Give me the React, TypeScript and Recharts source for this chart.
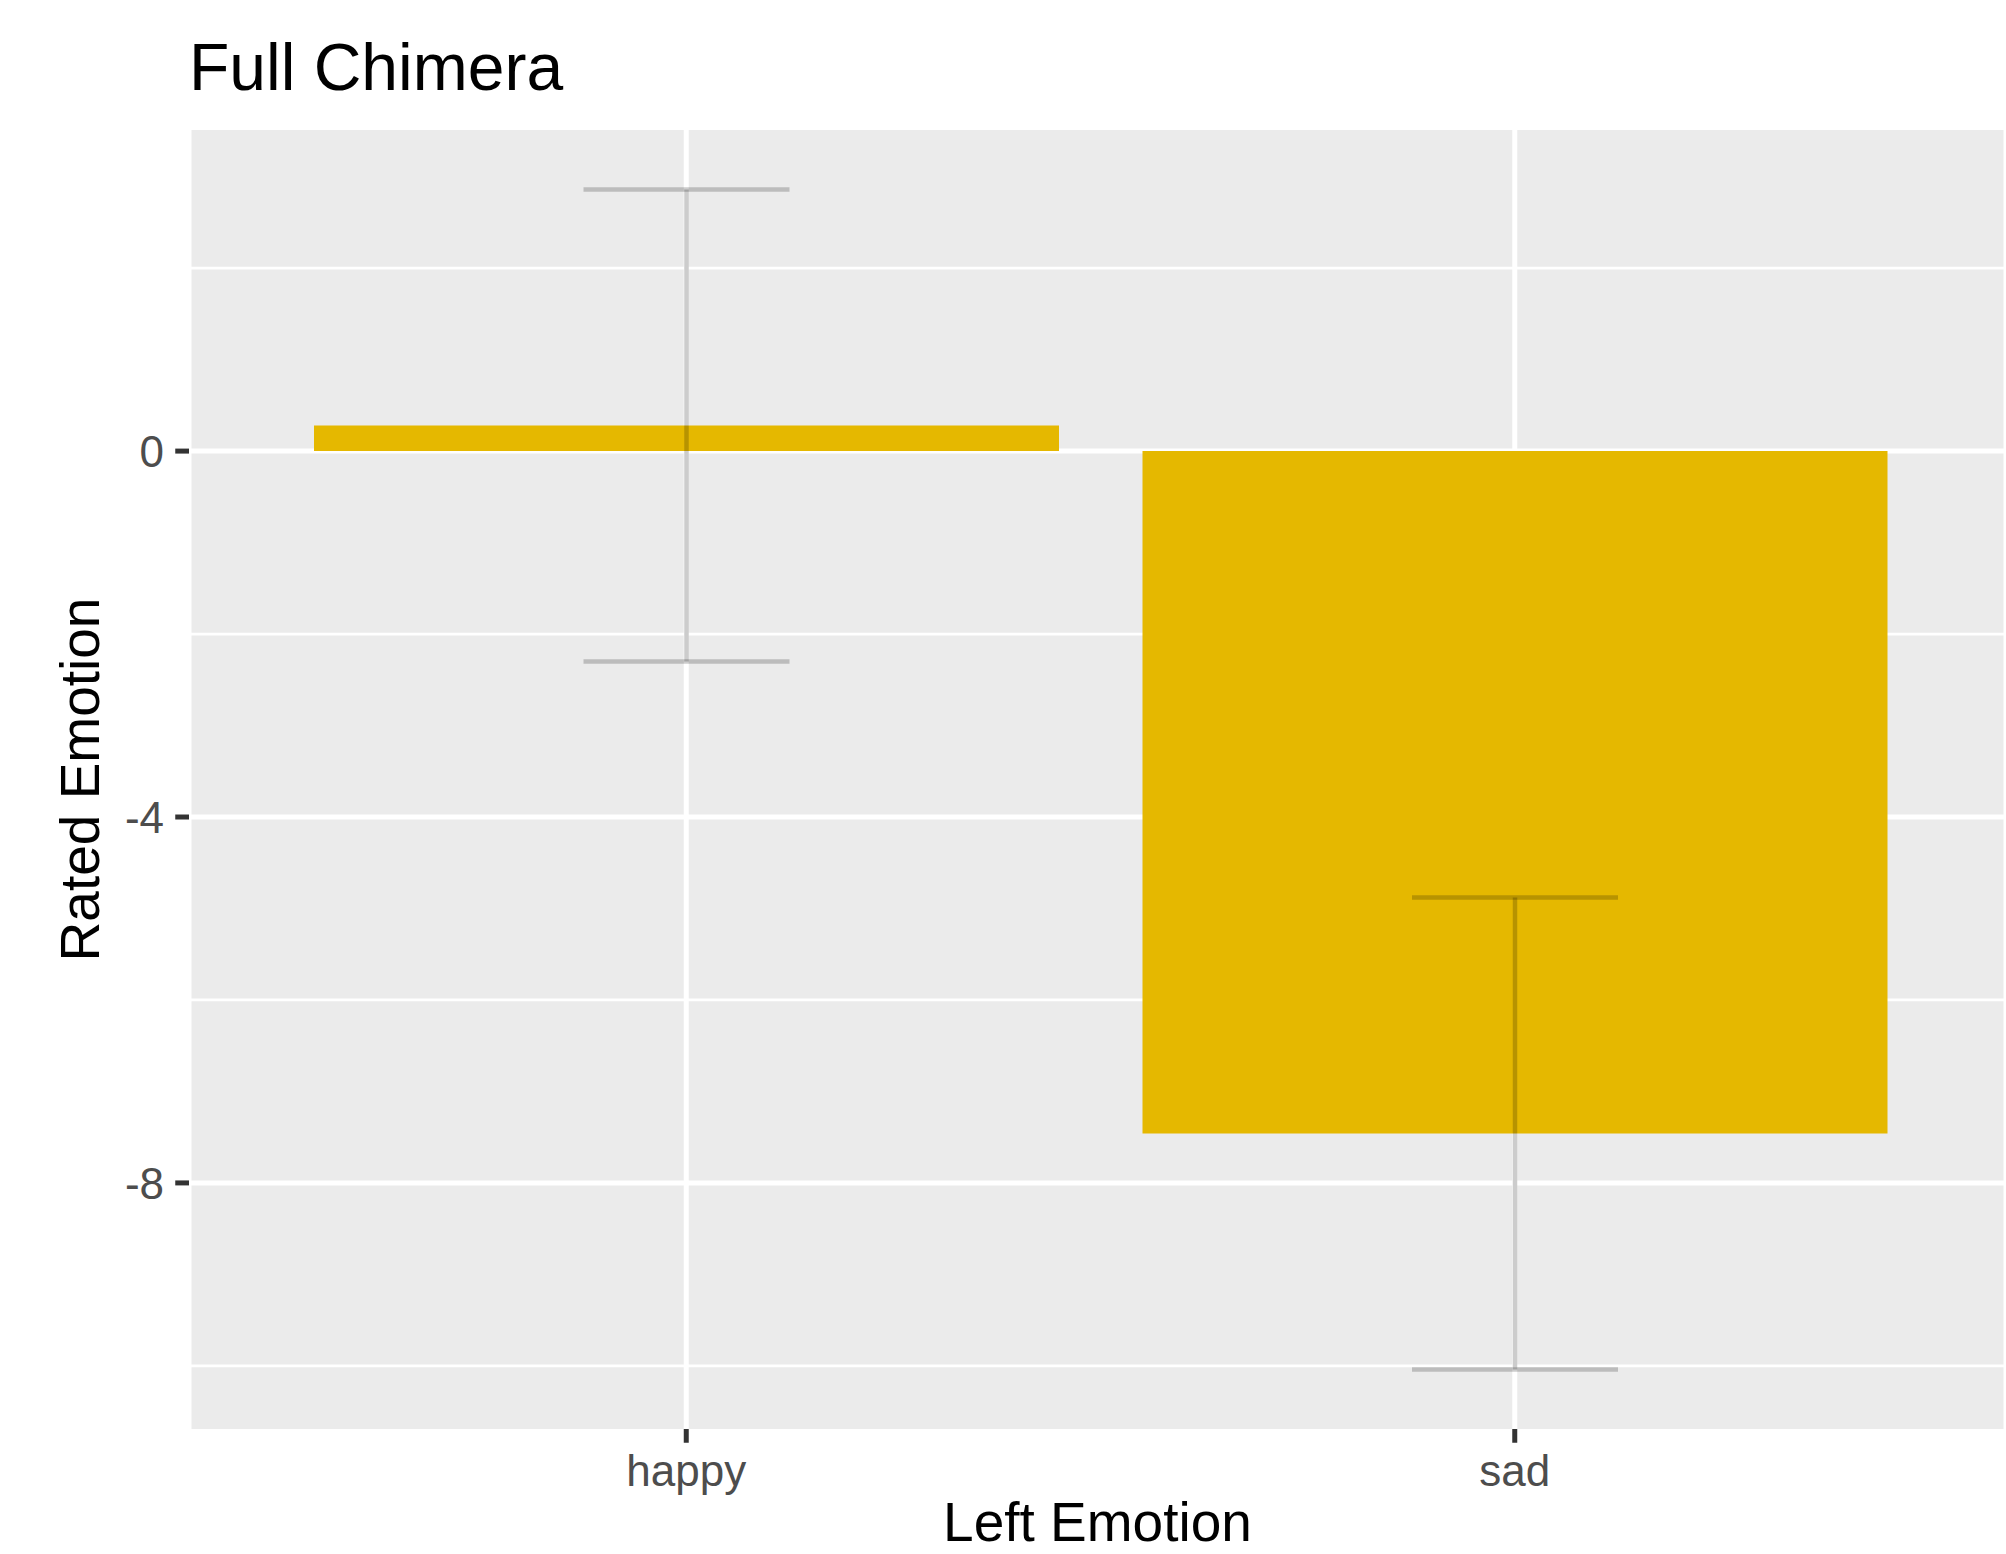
import { Bar, BarChart, CartesianGrid, ErrorBar, XAxis, YAxis } from "recharts";

const categories = ["happy", "sad"];
const means = [0.28, -7.46];
const errors = [2.58, 2.58];
const yTicks = [0, -4, -8];
const yMinor = [2, -2, -6, -10];
const yDomain = [-10.69, 3.51];

const W = 2006;
const H = 1554;
const TOP = 130;
const LEFT = 189;
const BOTTOM = 1429;
const FONT = '"Liberation Sans", Arial, Helvetica, sans-serif';

const data = categories.map((c, i) => ({ emotion: c, mean: means[i], err: errors[i] }));

function XTick({ x, payload }: any) {
  return (
    <text x={x} y={BOTTOM + 57} textAnchor="middle" fill="#4D4D4D" fontSize={44} fontFamily={FONT}>
      {payload.value}
    </text>
  );
}

function YTick({ y, payload }: any) {
  return (
    <text x={LEFT - 25} y={y} dy="0.36em" textAnchor="end" fill="#4D4D4D" fontSize={44} fontFamily={FONT}>
      {payload.value}
    </text>
  );
}

export default function App() {
  return (
    <div style={{ position: "absolute", left: 0, top: 0, width: W, height: H, background: "#fff" }}>
      <BarChart
        width={W}
        height={H}
        data={data}
        margin={{ top: TOP, right: 0, bottom: 0, left: 0 }}
        barCategoryGap={0}
      >
        <CartesianGrid
          fill="#EBEBEB"
          stroke="#FFFFFF"
          strokeWidth={2.7}
          vertical={false}
          horizontalValues={yMinor}
        />
        <CartesianGrid
          stroke="#FFFFFF"
          strokeWidth={5}
          horizontalValues={yTicks}
        />
        <XAxis
          dataKey="emotion"
          type="category"
          height={H - BOTTOM}
          padding={{ left: 83, right: 77 }}
          axisLine={false}
          tickSize={13.75}
          tickLine={{ stroke: "#333333", strokeWidth: 5 }}
          tick={<XTick />}
        />
        <YAxis
          type="number"
          domain={yDomain}
          ticks={yTicks}
          allowDataOverflow
          width={LEFT}
          axisLine={false}
          tickSize={13.75}
          tickLine={{ stroke: "#333333", strokeWidth: 5 }}
          tick={<YTick />}
        />
        <Bar dataKey="mean" fill="#E5B800" barSize={745} isAnimationActive={false}>
          <ErrorBar
            dataKey="err"
            width={103}
            stroke="#000000"
            strokeOpacity={0.2}
            strokeWidth={4.5}
            isAnimationActive={false}
          />
        </Bar>
      </BarChart>
      <svg
        width={W}
        height={H}
        style={{ position: "absolute", left: 0, top: 0, pointerEvents: "none" }}
      >
        <text x={LEFT} y={90} fontSize={66} fontFamily={FONT} fill="#000">
          Full Chimera
        </text>
        <text x={(LEFT + W) / 2} y={1541} textAnchor="middle" fontSize={55} fontFamily={FONT} fill="#000">
          Left Emotion
        </text>
        <text
          x={0}
          y={0}
          transform={`translate(99, ${(TOP + BOTTOM) / 2}) rotate(-90)`}
          textAnchor="middle"
          fontSize={55}
          fontFamily={FONT}
          fill="#000"
        >
          Rated Emotion
        </text>
      </svg>
    </div>
  );
}
